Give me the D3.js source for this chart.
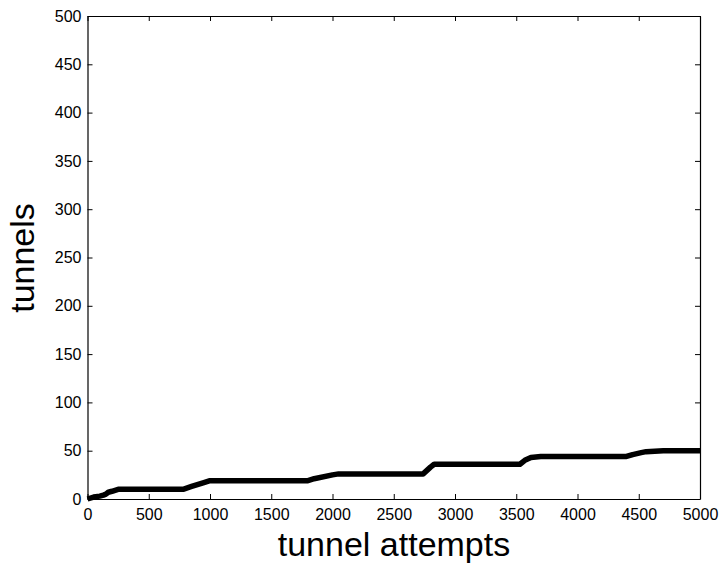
<!DOCTYPE html>
<html>
<head>
<meta charset="utf-8">
<script src="https://cdn.jsdelivr.net/npm/d3@7"></script>
<style>
  body { margin: 0; background: #fff; }
  svg text { font-family: "Liberation Sans", Arial, sans-serif; }
</style>
</head>
<body>
<script>
// tunnels found vs. tunnel attempts
const attempts = [0, 50, 100, 130, 150, 170, 200, 250, 780, 850, 950, 1000, 1800, 1850, 2000, 2050, 2740, 2800, 2830, 3530, 3570, 3620, 3700, 4400, 4450, 4520, 4560, 4700, 5000];
const tunnels  = [0, 2, 3, 4, 5, 7, 8, 10, 10, 13, 17, 19, 19, 21, 25, 26, 26, 33, 36, 36, 40, 43, 44, 44, 46, 48, 49, 50, 50];
const xTicks = [0, 500, 1000, 1500, 2000, 2500, 3000, 3500, 4000, 4500, 5000];
const yTicks = [0, 50, 100, 150, 200, 250, 300, 350, 400, 450, 500];

const width = 722, height = 565;
const margin = {top: 16, right: 22, bottom: 66, left: 87.5};

const data = attempts.map((a, i) => ({x: a, y: tunnels[i]}));

const xScale = d3.scaleLinear().domain([0, 5000]).range([margin.left, width - margin.right]);
const yScale = d3.scaleLinear().domain([0, 500]).range([height - margin.bottom, margin.top]);

const svg = d3.select('body').append('svg')
  .attr('width', width)
  .attr('height', height);

// the curve
const line = d3.line().x(d => xScale(d.x)).y(d => yScale(d.y));
svg.append('path')
  .datum(data)
  .attr('d', line)
  .attr('fill', 'none')
  .attr('stroke', '#000')
  .attr('stroke-width', 5.5)
  .attr('stroke-linejoin', 'round');

// axes, ticks pointing inwards
const fmt = d3.format('d');
const xAxis = d3.axisBottom(xScale).tickValues(xTicks).tickFormat(fmt).tickSizeInner(-5).tickSizeOuter(0).tickPadding(10);
const yAxis = d3.axisLeft(yScale).tickValues(yTicks).tickFormat(fmt).tickSizeInner(-5).tickSizeOuter(0).tickPadding(6);

svg.append('g')
  .attr('transform', `translate(0,${height - margin.bottom})`)
  .call(xAxis)
  .call(g => g.selectAll('text').attr('font-size', 16).attr('fill', '#000'));

svg.append('g')
  .attr('transform', `translate(${margin.left},0)`)
  .call(yAxis)
  .call(g => g.selectAll('text').attr('font-size', 16).attr('fill', '#000'));

// mirrored ticks on top and right
svg.append('g')
  .attr('transform', `translate(0,${margin.top})`)
  .call(d3.axisTop(xScale).tickValues(xTicks).tickSizeInner(-5).tickSizeOuter(0).tickFormat(''));
svg.append('g')
  .attr('transform', `translate(${width - margin.right},0)`)
  .call(d3.axisRight(yScale).tickValues(yTicks).tickSizeInner(-5).tickSizeOuter(0).tickFormat(''));

svg.selectAll('.domain').attr('stroke', '#000').attr('stroke-width', 1.2);
svg.selectAll('.tick line').attr('stroke', '#000');

// axis titles
svg.append('text')
  .attr('x', 394)
  .attr('y', 556)
  .attr('text-anchor', 'middle')
  .attr('font-size', 34)
  .text('tunnel attempts');

svg.append('text')
  .attr('transform', `translate(34,258) rotate(-90)`)
  .attr('text-anchor', 'middle')
  .attr('font-size', 34)
  .text('tunnels');
</script>
</body>
</html>
